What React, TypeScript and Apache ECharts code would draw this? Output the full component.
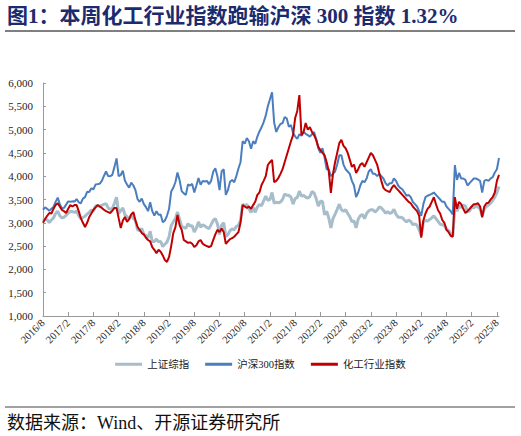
import { useEffect, useRef } from 'react';
import * as echarts from 'echarts';

// 半月频数据：每月两个点（月初、月中），2016/8 - 2025/8
const sse = [
  // 2016/8-12
  3040, 3085, 3060, 3005, 3060, 3105, 3200, 3250, 3150, 3105,
  // 2017
  3120, 3160, 3210, 3240, 3240, 3225, 3250, 3155, 3090, 3115, 3140, 3190,
  3220, 3275, 3250, 3360, 3370, 3350, 3380, 3395, 3410, 3320, 3290, 3305,
  // 2018
  3420, 3550, 3200, 3260, 3320, 3170, 3130, 3080, 3170, 3095, 3050, 2850,
  2830, 2875, 2750, 2725, 2680, 2820, 2600, 2600, 2650, 2590, 2600, 2490,
  // 2019
  2540, 2585, 2700, 2940, 3020, 3090, 3230, 3080, 2920, 2900, 2880, 2980,
  2930, 2935, 2800, 2890, 3020, 2905, 2960, 2930, 2900, 2875, 2960, 3050,
  // 2020
  3090, 2980, 2750, 2950, 3000, 2700, 2750, 2830, 2870, 2850, 2920, 2950,
  3050, 3400, 3360, 3395, 3300, 3220, 3330, 3225, 3340, 3390, 3370, 3470,
  // 2021
  3570, 3480, 3500, 3650, 3420, 3440, 3430, 3445, 3500, 3615, 3590, 3590,
  3550, 3400, 3520, 3545, 3680, 3570, 3590, 3550, 3530, 3565, 3670, 3640,
  // 2022
  3520, 3360, 3460, 3460, 3170, 3250, 3100, 2890, 3090, 3185, 3290, 3400,
  3280, 3250, 3280, 3200, 3130, 3025, 3040, 2890, 3080, 3150, 3180, 3090,
  // 2023
  3200, 3255, 3280, 3280, 3230, 3270, 3340, 3320, 3270, 3205, 3240, 3200,
  3220, 3290, 3180, 3120, 3120, 3110, 3060, 3020, 3060, 3030, 2960, 2975,
  // 2024
  2950, 2850, 2720, 3015, 3050, 3040, 3070, 3105, 3150, 3090, 3030, 2970,
  2960, 2940, 2860, 2840, 2750, 2720, 3340, 3250, 3350, 3330, 3380, 3360,
  // 2025/1-8
  3240, 3250, 3340, 3320, 3370, 3335, 3300, 3150, 3300, 3350, 3380, 3420,
  3480, 3550, 3650, 3780,
];

const hs300 = [
  // 2016/8-12
  3280, 3330, 3300, 3255, 3300, 3340, 3450, 3540, 3400, 3310,
  // 2017
  3320, 3390, 3460, 3450, 3460, 3455, 3510, 3440, 3420, 3520, 3550, 3665,
  3660, 3740, 3720, 3820, 3830, 3840, 3900, 4005, 4100, 4005, 4000, 4030,
  // 2018
  4200, 4380, 4000, 4025, 4120, 3900, 3820, 3755, 3860, 3800, 3700, 3510,
  3450, 3520, 3400, 3335, 3250, 3440, 3250, 3155, 3250, 3170, 3180, 3010,
  // 2019
  3050, 3150, 3300, 3670, 3750, 3870, 4080, 3915, 3680, 3630, 3600, 3825,
  3800, 3835, 3650, 3800, 3960, 3815, 3900, 3885, 3900, 3830, 3900, 4095,
  // 2020
  4170, 4000, 3700, 4100, 4150, 3600, 3700, 3880, 3920, 3870, 4000, 4165,
  4300, 4750, 4700, 4820, 4750, 4590, 4750, 4695, 4850, 4960, 5050, 5160,
  // 2021
  5300, 5500, 5650, 5800, 5150, 4950, 5050, 5120, 5140, 5270, 5240, 5060,
  5100, 4930, 4850, 4800, 4900, 4870, 4950, 4910, 4880, 4850, 4900, 4950,
  // 2022
  4800, 4600, 4500, 4600, 4400, 4150, 4150, 4000, 4050, 4100, 4250, 4450,
  4450, 4250, 4150, 4100, 4050, 3900, 3800, 3550, 3650, 3800, 3900, 3870,
  // 2023
  3950, 4100, 4150, 4050, 4050, 4000, 4050, 4000, 3950, 3850, 3800, 3850,
  3850, 3950, 3900, 3800, 3750, 3720, 3650, 3580, 3600, 3550, 3450, 3400,
  // 2024
  3350, 3250, 3150, 3400, 3550, 3580, 3600, 3620, 3650, 3600, 3550, 3500,
  3450, 3450, 3350, 3300, 3250, 3180, 4240, 3920, 4070, 3950, 3950, 3920,
  // 2025/1-8
  3800, 3850, 3900, 3950, 3950, 3930, 3900, 3650, 3900, 3920, 3900, 3950,
  3980, 4080, 4150, 4390,
];

const chem = [
  // 2016/8-12
  3000, 3080, 3150, 3210, 3200, 3300, 3380, 3420, 3350, 3275,
  // 2017
  3250, 3210, 3300, 3380, 3350, 3380, 3380, 3250, 3100, 3000, 2910, 3000,
  3125, 3200, 3280, 3330, 3380, 3350, 3320, 3280, 3250, 3230, 3210, 3260,
  // 2018
  3320, 3320, 3100, 2890, 3050, 3125, 3020, 3080, 3180, 3230, 3050, 2910,
  2850, 2780, 2750, 2680, 2630, 2600, 2480, 2420, 2350, 2420, 2380, 2300,
  // 2019
  2200, 2160, 2270, 2500, 2780, 2900, 3170, 2950, 2850, 2630, 2600, 2570,
  2580, 2550, 2480, 2520, 2600, 2630, 2550, 2520, 2500, 2480, 2500, 2630,
  // 2020
  2750, 2850, 2800, 2880, 2800, 2550, 2600, 2650, 2670, 2700, 2750, 2800,
  3000, 3380, 3350, 3320, 3350, 3300, 3380, 3450, 3600, 3650, 3810, 3900,
  // 2021
  4000, 4240, 4300, 4350, 3870, 3900, 3960, 4050, 4150, 4300, 4450, 4600,
  4750, 4880, 5250, 5400, 5740, 4880, 4950, 5140, 5000, 5050, 4950, 4880,
  // 2022
  4780, 4630, 4560, 4500, 4450, 4300, 4100, 3640, 4050, 4300, 4500, 4710,
  4780, 4650, 4600, 4500, 4350, 4200, 4250, 4070, 4150, 4250, 4280, 4200,
  // 2023
  4300, 4400, 4500, 4450, 4350, 4250, 4070, 3900, 3750, 3700, 3680, 3660,
  3750, 3810, 3750, 3700, 3650, 3600, 3550, 3500, 3450, 3420, 3350, 3300,
  // 2024
  3250, 3150, 2680, 3050, 3200, 3300, 3350, 3450, 3550, 3400, 3270, 3200,
  3060, 3000, 2850, 2800, 2720, 2700, 3550, 3300, 3450, 3400, 3300, 3210,
  // 2025/1-8
  3250, 3300, 3350, 3400, 3400, 3420, 3350, 3120, 3350, 3420, 3430, 3500,
  3550, 3650, 3900, 4030,
];

const xLabels = [
  '2016/8', '2017/2', '2017/8', '2018/2', '2018/8', '2019/2', '2019/8',
  '2020/2', '2020/8', '2021/2', '2021/8', '2022/2', '2022/8', '2023/2',
  '2023/8', '2024/2', '2024/8', '2025/2', '2025/8',
];

const seriesNames = ['上证综指', '沪深300指数', '化工行业指数'];
const colors = ['#A7BDCA', '#4A7EBF', '#C00000'];

// 类目：每月月初、月中
const dates: string[] = [];
for (let y = 2016, m = 8; dates.length < sse.length; ) {
  dates.push(`${y}/${m}`, `${y}/${m}/16`);
  m += 1;
  if (m > 12) {
    m = 1;
    y += 1;
  }
}

const serif = '"Liberation Serif", "Times New Roman", "Noto Sans CJK SC", serif';

export default function App() {
  const ref = useRef<HTMLDivElement>(null);

  useEffect(() => {
    if (!ref.current) return;
    const chart = echarts.init(ref.current, undefined, { renderer: 'svg' });
    chart.setOption({
      animation: false,
      backgroundColor: '#fff',
      color: colors,
      title: {
        text: '图1：本周化工行业指数跑输沪深 300 指数 1.32%',
        left: 7,
        top: 5,
        padding: 0,
        textStyle: {
          fontSize: 21,
          fontWeight: 'bold',
          color: '#1C2B6E',
          fontFamily: serif,
        },
      },
      graphic: [
        {
          type: 'line',
          shape: { x1: 5, y1: 31, x2: 515, y2: 31 },
          style: { stroke: '#000', lineWidth: 1 },
        },
        {
          type: 'line',
          shape: { x1: 5, y1: 407, x2: 515, y2: 407 },
          style: { stroke: '#444', lineWidth: 1 },
        },
        {
          type: 'text',
          x: 7,
          y: 423,
          style: {
            text: '数据来源：Wind、开源证券研究所',
            fontSize: 18,
            fill: '#111',
            fontFamily: serif,
            verticalAlign: 'middle',
          },
        },
      ],
      legend: {
        top: 354,
        left: 'center',
        icon: 'rect',
        itemWidth: 27,
        itemHeight: 3,
        itemGap: 16,
        textStyle: { fontSize: 10.5, color: '#222', fontFamily: serif },
        data: seriesNames,
      },
      grid: { left: 43, right: 22, top: 83, bottom: 120 },
      xAxis: {
        type: 'category',
        boundaryGap: false,
        data: dates,
        axisLine: { lineStyle: { color: '#999' } },
        axisTick: {
          inside: true,
          length: 4,
          interval: (i: number) => i % 12 === 0,
          lineStyle: { color: '#999' },
        },
        axisLabel: {
          interval: (i: number) => i % 12 === 0,
          rotate: 45,
          fontSize: 10.5,
          color: '#222',
          fontFamily: serif,
          margin: 5,
          formatter: (_v: string, i: number) => xLabels[i / 12] ?? '',
        },
        splitLine: { show: false },
      },
      yAxis: {
        type: 'value',
        min: 1000,
        max: 6000,
        interval: 500,
        axisLine: { show: true, lineStyle: { color: '#999' } },
        axisTick: { show: true, inside: true, length: 3, lineStyle: { color: '#999' } },
        axisLabel: {
          fontSize: 11,
          color: '#222',
          fontFamily: serif,
          margin: 10,
          formatter: (v: number) => v.toLocaleString('en-US'),
        },
        splitLine: { show: false },
      },
      series: [
        {
          name: seriesNames[0],
          type: 'line',
          data: sse,
          showSymbol: false,
          lineStyle: { width: 3, color: colors[0] },
        },
        {
          name: seriesNames[1],
          type: 'line',
          data: hs300,
          showSymbol: false,
          lineStyle: { width: 2, color: colors[1] },
        },
        {
          name: seriesNames[2],
          type: 'line',
          data: chem,
          showSymbol: false,
          lineStyle: { width: 2, color: colors[2] },
        },
      ],
    });
    return () => chart.dispose();
  }, []);

  return (
    <div
      ref={ref}
      style={{ position: 'fixed', left: 0, top: 0, width: 521, height: 436 }}
    />
  );
}
